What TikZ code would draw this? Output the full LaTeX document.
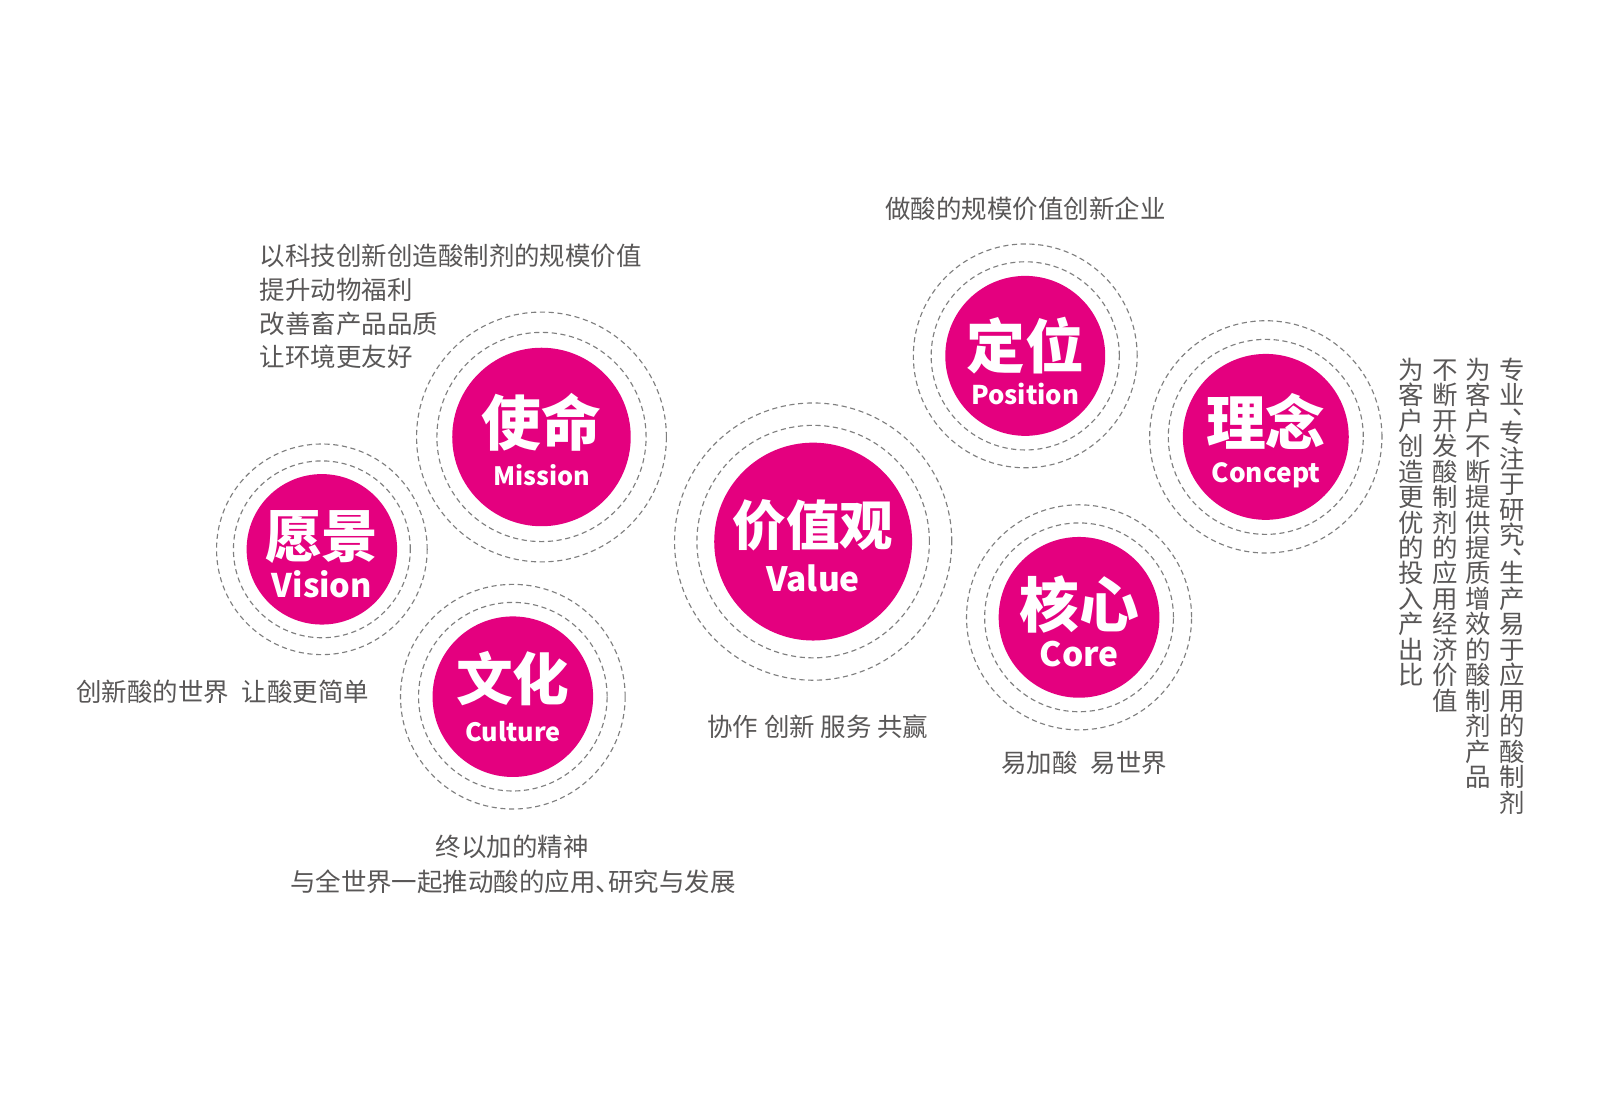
\documentclass[tikz,border=0pt]{standalone}
\usepackage{fontspec}
\setmainfont{Noto Sans CJK SC}
\definecolor{mag}{HTML}{E4007F}
\definecolor{txtc}{HTML}{595757}
\definecolor{ringc}{HTML}{7F7F7F}
\newcommand\vc[1]{\hbox to 24.7pt{\hss#1\hss}}
\newcommand\vdun{\hbox to 24.7pt{\hskip12pt\raise15pt\hbox{、}\hss}\vskip-12.35pt}
\newcommand\vsetup{\baselineskip=24.7pt\lineskiplimit=-100pt\lineskip=0pt}
\newcommand\halfdun{\makebox[0.5em][l]{、}}
\begin{document}
\begin{tikzpicture}[x=1pt,y=-1pt,
  disc/.style={circle, fill=mag, draw=none, inner sep=0pt},
  ring/.style={draw=ringc, line width=1.1pt, dash pattern=on 5pt off 3.5pt},
  cn/.style={text=white, inner sep=0pt, anchor=base, font={\bfseries\fontsize{#1}{#1}\selectfont}},
  en/.style={text=white, inner sep=0pt, anchor=base, font={\bfseries\fontsize{#1}{#1}\selectfont}},
  desc/.style={text=txtc, inner sep=0pt, font={\fontsize{24.7}{24.7}\selectfont}}]
\useasboundingbox[fill=white] (0,0) rectangle (1568,1073);

% Vision
\node[disc, minimum size=146pt] (vision) at (312.3,533) {};
\draw[ring] (vision.center) circle[radius=85.8pt];
\draw[ring] (vision.center) circle[radius=102.2pt];
\node[cn=55] (visioncn) at (312.3,541) {愿景};
\node[en=31.5] (visionen) at (312.3,580) {Vision};

% Mission
\node[disc, minimum size=173.2pt] (mission) at (525.4,424) {};
\draw[ring] (mission.center) circle[radius=101.5pt];
\draw[ring] (mission.center) circle[radius=121.2pt];
\node[cn=58] (missioncn) at (525.4,432.5) {使命};
\node[en=24.5] (missionen) at (525.4,471) {Mission};

% Culture
\node[disc, minimum size=155.8pt] (culture) at (497.6,676) {};
\draw[ring] (culture.center) circle[radius=91.5pt];
\draw[ring] (culture.center) circle[radius=109pt];
\node[cn=55] (culturecn) at (497.6,680) {文化};
\node[en=24.5] (cultureen) at (497.6,719) {Culture};

% Value
\node[disc, minimum size=192pt] (value) at (789,525.5) {};
\draw[ring] (value.center) circle[radius=112.8pt];
\draw[ring] (value.center) circle[radius=134.5pt];
\node[cn=52] (valuecn) at (789,529) {价值观};
\node[en=32.5] (valueen) at (789,574) {Value};

% Position
\node[disc, minimum size=155.2pt] (position) at (994.8,345.3) {};
\draw[ring] (position.center) circle[radius=91.3pt];
\draw[ring] (position.center) circle[radius=108.6pt];
\node[cn=57] (positioncn) at (994.8,358) {定位};
\node[en=25] (positionen) at (994.8,392) {Position};

% Core
\node[disc, minimum size=156pt] (core) at (1047,599) {};
\draw[ring] (core.center) circle[radius=91.6pt];
\draw[ring] (core.center) circle[radius=109.2pt];
\node[cn=58] (corecn) at (1047,609) {核心};
\node[en=32.5] (coreen) at (1047,647) {Core};

% Concept
\node[disc, minimum size=161pt] (concept) at (1228.2,423.9) {};
\draw[ring] (concept.center) circle[radius=94.6pt];
\draw[ring] (concept.center) circle[radius=112.7pt];
\node[cn=58] (conceptcn) at (1228.2,432) {理念};
\node[en=25.5] (concepten) at (1228.2,468) {Concept};

% descriptions
\node[desc, anchor=base west] (mt1) at (252,258) {以科技创新创造酸制剂的规模价值};
\node[desc, anchor=base west] (mt2) at (252,290.6) {提升动物福利};
\node[desc, anchor=base west] (mt3) at (252,323.3) {改善畜产品品质};
\node[desc, anchor=base west] (mt4) at (252,356) {让环境更友好};

\node[desc, anchor=base west] (vt) at (74,681) {创新酸的世界\hspace{0.5em}让酸更简单};

\node[desc, anchor=base] (ct1) at (497,831) {终以加的精神};
\node[desc, anchor=base] (ct2) at (497.6,865) {与全世界一起推动酸的应用\halfdun 研究与发展};

\node[desc, anchor=base] (vat) at (793.5,715) {协作 创新 服务 共赢};

\node[desc, anchor=base] (pt) at (995,212) {做酸的规模价值创新企业};

\node[desc, anchor=base] (cot) at (1052,750) {易加酸\hspace{0.5em}易世界};

% vertical columns (concept)
\node[desc, anchor=base] (cc1) at (1467.5,368) {\vtop{\vsetup
  \vc{专}\vc{业}\vdun\vc{专}\vc{注}\vc{于}\vc{研}\vc{究}\vdun\vc{生}\vc{产}\vc{易}\vc{于}\vc{应}\vc{用}\vc{的}\vc{酸}\vc{制}\vc{剂}}};
\node[desc, anchor=base] (cc2) at (1434.7,368) {\vtop{\vsetup
  \vc{为}\vc{客}\vc{户}\vc{不}\vc{断}\vc{提}\vc{供}\vc{提}\vc{质}\vc{增}\vc{效}\vc{的}\vc{酸}\vc{制}\vc{剂}\vc{产}\vc{品}}};
\node[desc, anchor=base] (cc3) at (1402,368) {\vtop{\vsetup
  \vc{不}\vc{断}\vc{开}\vc{发}\vc{酸}\vc{制}\vc{剂}\vc{的}\vc{应}\vc{用}\vc{经}\vc{济}\vc{价}\vc{值}}};
\node[desc, anchor=base] (cc4) at (1369.6,368) {\vtop{\vsetup
  \vc{为}\vc{客}\vc{户}\vc{创}\vc{造}\vc{更}\vc{优}\vc{的}\vc{投}\vc{入}\vc{产}\vc{出}\vc{比}}};
\end{tikzpicture}
\end{document}
